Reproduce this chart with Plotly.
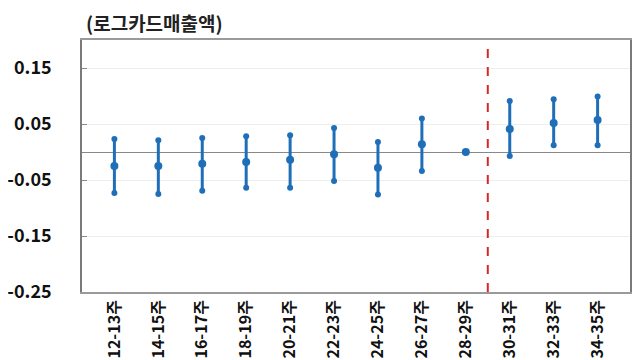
import plotly.graph_objects as go

weeks = ["12-13주", "14-15주", "16-17주", "18-19주", "20-21주", "22-23주",
         "24-25주", "26-27주", "28-29주", "30-31주", "32-33주", "34-35주"]
coef = [-0.025, -0.025, -0.021, -0.018, -0.014, -0.004, -0.028, 0.014, 0.0, 0.041, 0.052, 0.057]
upper = [0.023, 0.021, 0.025, 0.028, 0.030, 0.043, 0.018, 0.060, 0.0, 0.091, 0.094, 0.099]
lower = [-0.073, -0.075, -0.069, -0.064, -0.064, -0.052, -0.076, -0.034, 0.0, -0.007, 0.012, 0.012]
y_ticks = [-0.25, -0.15, -0.05, 0.05, 0.15]
y_tick_text = ["-0.25", "-0.15", "-0.05", "0.05", "0.15"]
break_after = "28-29주"
title_text = "(로그카드매출액)"

err_plus = [u - c for u, c in zip(upper, coef)]
err_minus = [c - l for c, l in zip(coef, lower)]

blue = "#1f6fb8"
font_family = "Noto Sans CJK KR, Noto Sans, sans-serif"

fig = go.Figure()
fig.add_trace(go.Scatter(
    x=weeks, y=coef, mode="markers",
    marker=dict(symbol="circle", size=8, color=blue),
    error_y=dict(type="data", symmetric=False, array=err_plus, arrayminus=err_minus,
                 color=blue, thickness=3, width=0),
    showlegend=False,
))
cap_x = [w for w, u, l in zip(weeks, upper, lower) if u != l] * 2
cap_y = [u for u, l in zip(upper, lower) if u != l] + [l for u, l in zip(upper, lower) if u != l]
fig.add_trace(go.Scatter(
    x=cap_x, y=cap_y, mode="markers",
    marker=dict(symbol="circle", size=6, color=blue),
    showlegend=False,
))

bx = weeks.index(break_after) + 0.5
fig.add_shape(type="line", x0=bx, x1=bx, xref="x", y0=0, y1=1, yref="paper",
              line=dict(color="#d62728", width=2, dash="dash"))

fig.update_layout(
    width=632, height=352,
    margin=dict(l=74, r=10, t=32, b=68),
    paper_bgcolor="white", plot_bgcolor="white",
    font=dict(family=font_family, size=13, color="#111"),
    annotations=[dict(text="<b>" + title_text + "</b>", x=0, y=1, xref="paper", yref="paper",
                      xanchor="left", yanchor="bottom", xshift=2, yshift=2, showarrow=False,
                      font=dict(size=19, family=font_family, color="#222"))],
)
fig.update_xaxes(
    type="category", tickangle=-90, showgrid=False, ticks="", automargin=False,
    tickfont=dict(size=16, family=font_family, color="#111", weight="bold"),
    showline=True, linecolor="#9a9a9a", linewidth=1.5, mirror=True,
)
fig.update_yaxes(
    range=[-0.25, 0.2], tickvals=y_ticks, ticktext=y_tick_text, automargin=False,
    ticks="inside", ticklen=5, tickcolor="#888",
    showgrid=True, gridcolor="#eeeeee", gridwidth=1,
    zeroline=True, zerolinecolor="#888", zerolinewidth=1.2,
    showline=True, linecolor="#7a7a7a", linewidth=1.5, mirror=True,
    tickfont=dict(size=18, family=font_family, color="#111", weight="bold"),
    ticklabelstandoff=25,
)

fig.write_html("out.html")
